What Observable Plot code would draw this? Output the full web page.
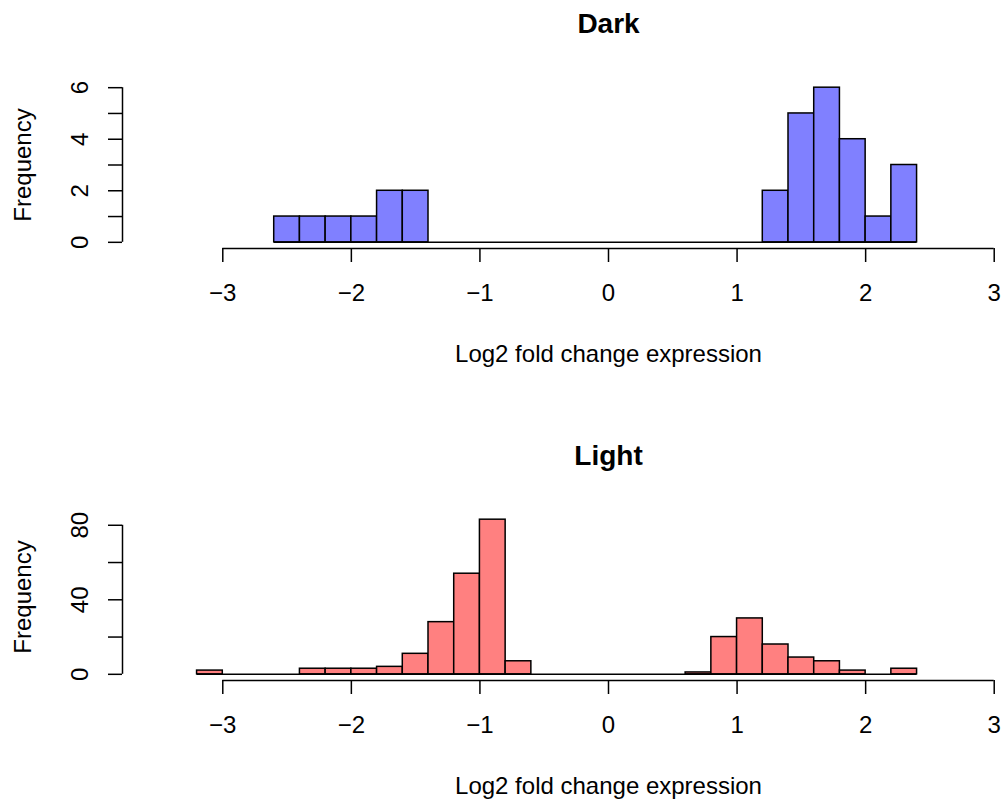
<!DOCTYPE html>
<html><head><meta charset="utf-8">
<script src="https://cdn.jsdelivr.net/npm/d3@7"></script>
<script src="https://cdn.jsdelivr.net/npm/@observablehq/plot@0.6"></script>
<style>
html,body{margin:0;padding:0;background:#fff;overflow:hidden;}
#chart svg{display:block;}
</style></head><body><div id="chart"></div>
<script>
const xlim = [-3.5, 3.5];
const xTicks = [-3, -2, -1, 0, 1, 2, 3];
const xLabel = "Log2 fold change expression";
const yLabel = "Frequency";

const darkTitle = "Dark";
const darkBreaks = [-2.6, -2.4, -2.2, -2.0, -1.8, -1.6, -1.4, -1.2, -1.0, -0.8, -0.6, -0.4, -0.2, 0, 0.2, 0.4, 0.6, 0.8, 1.0, 1.2, 1.4, 1.6, 1.8, 2.0, 2.2, 2.4];
const darkCounts = [1, 1, 1, 1, 2, 2, 0, 0, 0, 0, 0, 0, 0, 0, 0, 0, 0, 0, 0, 2, 5, 6, 4, 1, 3];
const darkYTicks = [0, 1, 2, 3, 4, 5, 6];
const darkYLabels = [0, 2, 4, 6];
const darkFill = "#8080FF";

const lightTitle = "Light";
const lightBreaks = [-3.2, -3.0, -2.8, -2.6, -2.4, -2.2, -2.0, -1.8, -1.6, -1.4, -1.2, -1.0, -0.8, -0.6, -0.4, -0.2, 0, 0.2, 0.4, 0.6, 0.8, 1.0, 1.2, 1.4, 1.6, 1.8, 2.0, 2.2, 2.4];
const lightCounts = [2, 0, 0, 0, 3, 3, 3, 4, 11, 28, 54, 83, 7, 0, 0, 0, 0, 0, 0, 1, 20, 30, 16, 9, 7, 2, 0, 3];
const lightYTicks = [0, 20, 40, 60, 80];
const lightYLabels = [0, 40, 80];
const lightFill = "#FF8080";

const FONT = "'Liberation Sans', Helvetica, Arial, sans-serif";
const fmt = d => d < 0 ? "\u2212" + Math.abs(d) : String(d);

function panel({title, breaks, counts, yTicks, yLabels, fill, height, marginBottom}) {
  const bins = counts.map((c, i) => ({x1: breaks[i], x2: breaks[i + 1], count: c}));
  const ylim = [0, d3.max(counts)];
  const ext = v => { const d = (v[1] - v[0]) * 0.04; return [v[0] - d, v[1] + d]; };
  const xd = ext(xlim), yd = ext(ylim);
  const xc = (xlim[0] + xlim[1]) / 2;
  const sw = 1.5;
  return Plot.plot({
    width: 1005, height, marginTop: 81, marginBottom, marginLeft: 122, marginRight: 0,
    style: {fontFamily: FONT, fontSize: "24px", background: "white", color: "black"},
    x: {domain: xd, range: [122, 1094]},
    y: {domain: yd},
    marks: [
      Plot.ruleY([0], {x1: breaks[0], x2: breaks[breaks.length - 1], stroke: "black", strokeWidth: sw}),
      Plot.rect(bins.filter(d => d.count > 0), {x1: "x1", x2: "x2", y1: 0, y2: "count", fill, stroke: "black", strokeWidth: sw}),
      Plot.ruleY([yd[0]], {x1: xTicks[0], x2: xTicks[xTicks.length - 1], stroke: "black", strokeWidth: sw}),
      Plot.axisX({ticks: xTicks, tickSize: 14, tickPadding: 21, strokeWidth: sw, label: null, tickFormat: fmt}),
      Plot.ruleX([xd[0]], {y1: yTicks[0], y2: yTicks[yTicks.length - 1], stroke: "black", strokeWidth: sw}),
      Plot.axisY({ticks: yTicks, tickSize: 14, strokeWidth: sw, label: null, tickFormat: () => ""}),
      Plot.text(yLabels, {y: d => d, text: d => fmt(d), frameAnchor: "left", dx: -35, rotate: -90, lineAnchor: "bottom", textAnchor: "middle"}),
      Plot.text([yLabel], {text: d => d, frameAnchor: "left", dx: -92, rotate: -90, lineAnchor: "bottom", textAnchor: "middle"}),
      Plot.text([xLabel], {x: () => xc, text: d => d, frameAnchor: "bottom", dy: 113, lineAnchor: "bottom", textAnchor: "middle"}),
      Plot.text([title], {x: () => xc, text: d => d, frameAnchor: "top", dy: -49, lineAnchor: "bottom", textAnchor: "middle", fontWeight: "bold", fontSize: 28})
    ]
  });
}

const chart = document.getElementById("chart");
chart.append(panel({title: darkTitle, breaks: darkBreaks, counts: darkCounts, yTicks: darkYTicks, yLabels: darkYLabels, fill: darkFill, height: 432, marginBottom: 184}));
chart.append(panel({title: lightTitle, breaks: lightBreaks, counts: lightCounts, yTicks: lightYTicks, yLabels: lightYLabels, fill: lightFill, height: 367, marginBottom: 119}));
</script>
</body></html>
